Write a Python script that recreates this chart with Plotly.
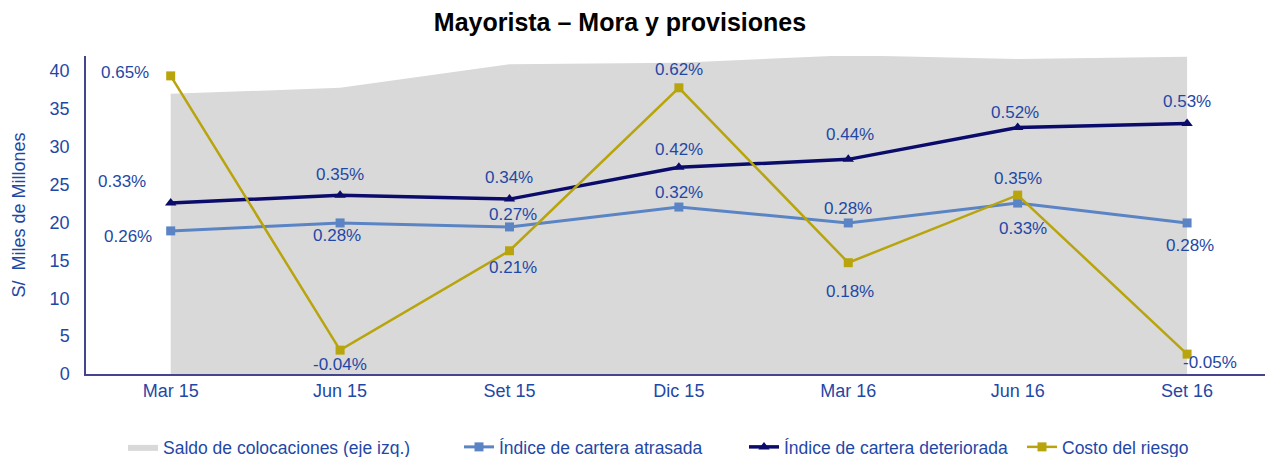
import plotly.graph_objects as go

categories = ["Mar 15", "Jun 15", "Set 15", "Dic 15", "Mar 16", "Jun 16", "Set 16"]
saldo = [37.0, 37.8, 40.9, 41.1, 42.1, 41.6, 41.9]          # S/ miles de millones
atrasada = [0.26, 0.28, 0.27, 0.32, 0.28, 0.33, 0.28]       # %
deteriorada = [0.33, 0.35, 0.34, 0.42, 0.44, 0.52, 0.53]    # %
costo = [0.65, -0.04, 0.21, 0.62, 0.18, 0.35, -0.05]        # %
y_ticks = [0, 5, 10, 15, 20, 25, 30, 35, 40]

# label offsets in pixels (dx, dy-up)
off_atrasada = [(-43, -6), (-3, -13), (4, 12), (0, 15), (0, 14), (5, -25), (3, -23)]
off_deteriorada = [(-49, 22), (0, 21), (0, 22), (0, 18), (2, 25), (-3, 15), (0, 22)]
off_costo = [(-46, 3), (0, -14), (4, -17), (0, 18), (2, -29), (0, 17), (23, -8)]

TXT = "#1F48A6"
AXC = "#44448F"
FONT = "Liberation Sans, Arial, sans-serif"

fig = go.Figure()
fig.add_trace(go.Scatter(
    x=categories, y=saldo, mode="lines", fill="tozeroy",
    fillcolor="#D9D9D9", line=dict(width=0, color="#D9D9D9"),
    name="Saldo de colocaciones (eje izq.)", legend="legend", hoverinfo="skip"))
fig.add_trace(go.Scatter(
    x=categories, y=atrasada, yaxis="y2", mode="lines+markers",
    line=dict(color="#5B84C4", width=3), marker=dict(symbol="square", size=9, color="#5B84C4"),
    name="Índice de cartera atrasada", legend="legend2"))
fig.add_trace(go.Scatter(
    x=categories, y=deteriorada, yaxis="y2", mode="lines+markers",
    line=dict(color="#0B0B6B", width=3.5), marker=dict(symbol="triangle-up", size=10, color="#0B0B6B"),
    name="Índice de cartera deteriorada", legend="legend3"))
fig.add_trace(go.Scatter(
    x=categories, y=costo, yaxis="y2", mode="lines+markers",
    line=dict(color="#B8A40C", width=2.5), marker=dict(symbol="square", size=9, color="#B8A40C"),
    name="Costo del riesgo", legend="legend4"))

annotations = []
for vals, offs in ((atrasada, off_atrasada), (deteriorada, off_deteriorada), (costo, off_costo)):
    for c, v, (dx, dy) in zip(categories, vals, offs):
        annotations.append(dict(
            x=c, y=v, xref="x", yref="y2", text=f"{v:.2f}%", showarrow=False,
            xshift=dx, yshift=dy, font=dict(size=17, color=TXT, family=FONT)))

W, H = 1265, 457
L, R, T, B = 86, 0, 56, 83
ph = H - T - B

def lx(px):
    return (px - L) / (W - L - R)

leg_y = (H - B - 447) / ph
legend_common = dict(orientation="h", yanchor="middle", xanchor="left", y=leg_y,
                     font=dict(size=17.5, color=TXT, family=FONT), bgcolor="rgba(0,0,0,0)",
                     itemwidth=30, tracegroupgap=0)

fig.update_layout(
    width=W, height=H,
    margin=dict(l=L, r=R, t=T, b=B, autoexpand=False),
    paper_bgcolor="white", plot_bgcolor="white",
    font=dict(family=FONT, size=17, color=TXT),
    title=dict(text="<b>Mayorista – Mora y provisiones</b>", x=620 / W, xanchor="center",
               y=1 - 22 / H, yanchor="middle", font=dict(size=25, color="black", family=FONT)),
    xaxis=dict(type="category", range=[-0.5, 6.46], showline=True, linecolor=AXC, linewidth=1.5,
               showgrid=False, ticks="", tickfont=dict(size=18, color=TXT), zeroline=False,
               automargin=False),
    yaxis=dict(range=[0, 42], tickvals=y_ticks, showline=True, linecolor=AXC, linewidth=1.5,
               showgrid=False, zeroline=False, ticks="", ticklabelstandoff=11,
               tickfont=dict(size=18, color=TXT), automargin=False,
               title=dict(text="S/  Miles de Millones", font=dict(size=18, color=TXT), standoff=19)),
    yaxis2=dict(range=[-0.1, 0.7], overlaying="y", side="right", visible=False, showgrid=False),
    showlegend=True,
    legend=dict(x=lx(123), **legend_common),
    legend2=dict(x=lx(459), **legend_common),
    legend3=dict(x=lx(744), **legend_common),
    legend4=dict(x=lx(1022), **legend_common),
    annotations=annotations,
)

fig.write_html("out.html", config={"displayModeBar": False},
               post_script="document.body.style.margin='0';document.body.style.overflow='hidden';")
